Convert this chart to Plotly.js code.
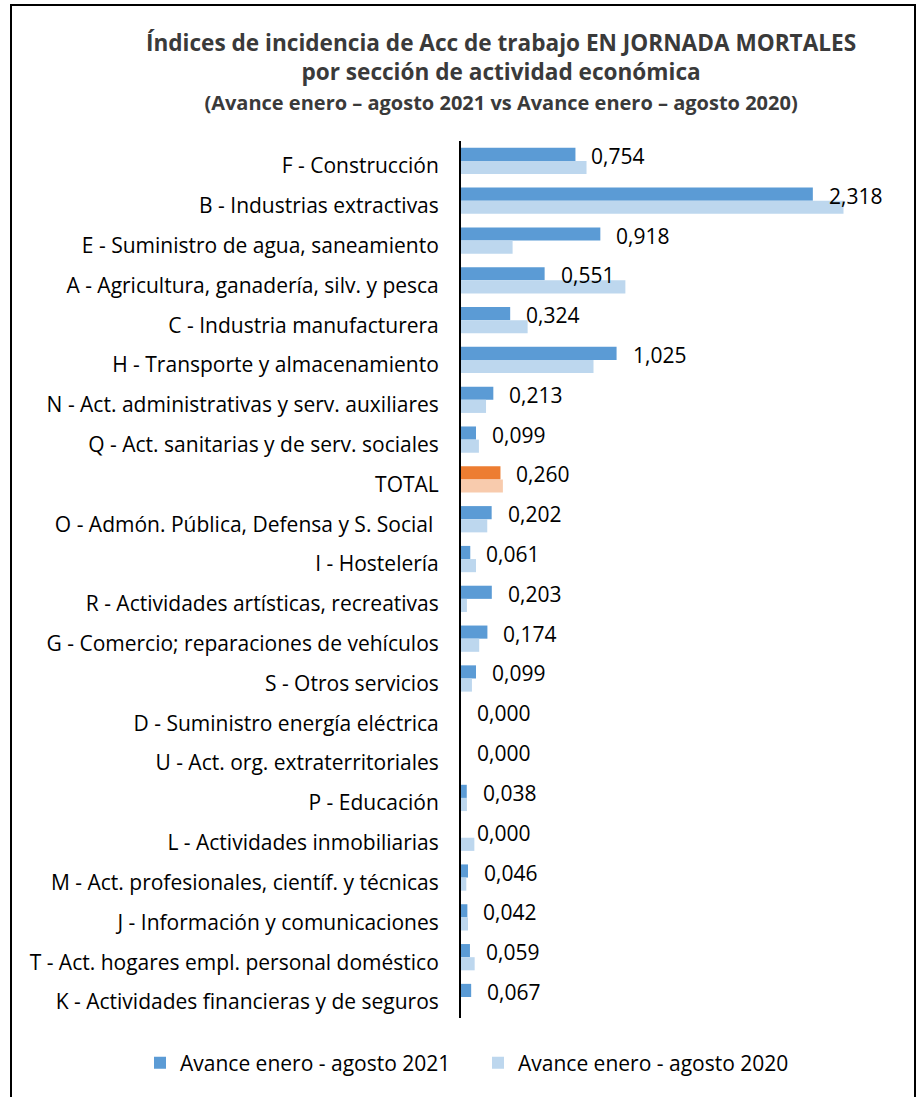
<!DOCTYPE html>
<html>
<head>
<meta charset="utf-8">
<script src="https://cdn.plot.ly/plotly-3.0.1.min.js"></script>
<style>
  body { margin: 0; background: #fff; }
  #frame { position: absolute; left: 10px; top: 4px; width: 902px; height: 1110px; border: 2px solid #000; pointer-events: none; }
  #plot { position: absolute; left: 0; top: 0; width: 916px; height: 1097px; }
</style>
</head>
<body>
<div id="plot"></div>
<div id="frame"></div>
<script>
// Sections, top to bottom as in the chart
let categories = [
    "F - Construcción",
    "B - Industrias extractivas",
    "E - Suministro de agua, saneamiento",
    "A - Agricultura, ganadería, silv. y pesca",
    "C - Industria manufacturera",
    "H - Transporte y almacenamiento",
    "N - Act. administrativas y serv. auxiliares",
    "Q - Act. sanitarias y de serv. sociales",
    "TOTAL",
    "O - Admón. Pública, Defensa y S. Social\u00a0",
    "I - Hostelería",
    "R - Actividades artísticas, recreativas",
    "G - Comercio; reparaciones de vehículos",
    "S - Otros servicios",
    "D - Suministro energía eléctrica",
    "U - Act. org. extraterritoriales",
    "P - Educación",
    "L - Actividades inmobiliarias",
    "M - Act. profesionales, científ. y técnicas",
    "J - Información y comunicaciones",
    "T - Act. hogares empl. personal doméstico",
    "K - Actividades financieras y de seguros"
];

// Avance enero - agosto 2021 (labelled values)
let values2021 = [0.754, 2.318, 0.918, 0.551, 0.324, 1.025, 0.213, 0.099, 0.260, 0.202, 0.061,
    0.203, 0.174, 0.099, 0.000, 0.000, 0.038, 0.000, 0.046, 0.042, 0.059, 0.067];

// Avance enero - agosto 2020
let values2020 = [0.827, 2.520, 0.340, 1.083, 0.439, 0.873, 0.165, 0.118, 0.276, 0.173, 0.099,
    0.039, 0.120, 0.072, 0.000, 0.000, 0.039, 0.088, 0.035, 0.046, 0.090, 0.000];

let font = "'Open Sans', Lato, sans-serif";

let colors2021 = categories.map(c => c === "TOTAL" ? "#ED7D31" : "#5B9BD5");
let colors2020 = categories.map(c => c === "TOTAL" ? "#F8CBAD" : "#BDD7EE");

let traces = [
    {
        type: "bar", orientation: "h", name: "Avance enero - agosto 2021",
        y: categories, x: values2021, legend: "legend",
        marker: { color: colors2021 }, hoverinfo: "x+y"
    },
    {
        type: "bar", orientation: "h", name: "Avance enero - agosto 2020",
        y: categories, x: values2020, legend: "legend2",
        marker: { color: colors2020 }, hoverinfo: "x+y"
    }
];

// Data labels at the end of the 2021 bars
let labels = values2021.map((v, i) => ({
    x: v, y: categories[i], xref: "x", yref: "y",
    text: v.toFixed(3).replace(".", ","),
    showarrow: false, xanchor: "left", yanchor: "middle",
    xshift: 14, yshift: 5,
    font: { family: font, size: 21, color: "#000" }
}));

let legendBase = {
    orientation: "h", xref: "container", yref: "container",
    xanchor: "left", y: 1 - 1063 / 1097, yanchor: "middle",
    font: { family: font, size: 21, color: "#000" },
    itemclick: false, itemdoubleclick: false
};

let layout = {
    width: 916, height: 1097,
    paper_bgcolor: "rgba(0,0,0,0)", plot_bgcolor: "rgba(0,0,0,0)",
    margin: { l: 461, r: 30, t: 141, b: 79 },
    barmode: "group", bargap: 0.34, bargroupgap: 0,
    title: {
        text: "<b>Índices de incidencia de Acc de trabajo EN JORNADA MORTALES<br>por sección de actividad económica<br><span style='font-size:20px'>(Avance enero – agosto 2021 vs Avance enero – agosto 2020)</span></b>",
        font: { family: font, size: 22.6, color: "#3a3a3a" },
        x: 0.547, xref: "container", xanchor: "center",
        y: 1 - 51 / 1097, yref: "container", yanchor: "top"
    },
    xaxis: {
        range: [0, 2.8], showgrid: false, zeroline: false, showline: false,
        showticklabels: false, ticks: "", fixedrange: true
    },
    yaxis: {
        autorange: "reversed", showgrid: false, zeroline: false,
        showline: true, linecolor: "#000", linewidth: 2,
        ticks: "outside", ticklen: 16, tickcolor: "rgba(0,0,0,0)",
        ticklabelshift: -5,
        tickfont: { family: font, size: 21, color: "#000" }, fixedrange: true
    },
    legend: Object.assign({}, legendBase, { x: 140 / 916 }),
    legend2: Object.assign({}, legendBase, { x: 478 / 916 }),
    showlegend: true,
    annotations: labels
};

Plotly.newPlot("plot", traces, layout, { displayModeBar: false, staticPlot: true });
</script>
</body>
</html>
